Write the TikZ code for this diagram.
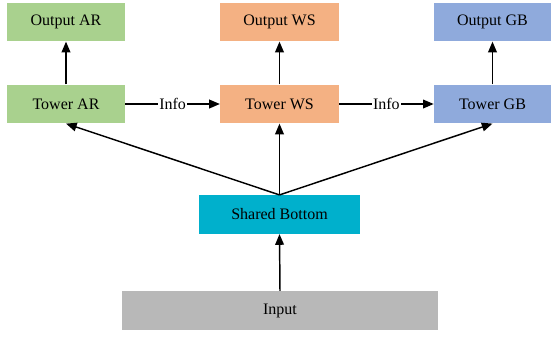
\documentclass[tikz,border=0pt]{standalone}
\usepackage{fontspec}
\setmainfont{Liberation Serif}
\usetikzlibrary{arrows.meta}
\definecolor{cgreen}{HTML}{A9D18E}
\definecolor{corange}{HTML}{F4B183}
\definecolor{cblue}{HTML}{8FAADC}
\definecolor{ccyan}{HTML}{00B0CC}
\definecolor{cgray}{HTML}{B8B8B8}
\begin{document}
\begin{tikzpicture}[x=0.75pt,y=-0.75pt,
  boxnode/.style={draw=none, minimum height=29pt, inner sep=0pt, font=\fontsize{12}{14}\selectfont, text=black},
  conn/.style={line width=1.1pt, -{Triangle[length=8pt,width=6.5pt]}},
  infolbl/.style={fill=white, inner sep=1pt, font=\fontsize{12}{14}\selectfont}]
\useasboundingbox (0,0) rectangle (551,337);
% outputs
\node[boxnode, fill=cgreen, minimum width=88.5pt] (oar) at (66,22) {Output AR};
\node[boxnode, fill=corange, minimum width=89pt] (ows) at (279.5,22) {Output WS};
\node[boxnode, fill=cblue, minimum width=87.75pt] (ogb) at (492.5,22) {Output GB};
% towers
\node[boxnode, fill=cgreen, minimum width=88.5pt] (tar) at (66,104) {Tower AR};
\node[boxnode, fill=corange, minimum width=89pt] (tws) at (279.5,104) {Tower WS};
\node[boxnode, fill=cblue, minimum width=87.75pt] (tgb) at (492.5,104) {Tower GB};
% shared bottom and input
\node[boxnode, fill=ccyan, minimum width=120.75pt] (sb) at (279.5,214.5) {Shared Bottom};
\node[boxnode, fill=cgray, minimum width=237pt] (inp) at (280,310.5) {Input};
% connectors
\draw[conn] (tar.north) -- (oar.south);
\draw[conn] (tws.north) -- (ows.south);
\draw[conn] (tgb.north) -- (ogb.south);
\draw[conn] (tar.east) -- node[infolbl] {Info} (tws.west);
\draw[conn] (tws.east) -- node[infolbl] {Info} (tgb.west);
\draw[conn] (sb.north) -- (tar.south);
\draw[conn] (sb.north) -- (tws.south);
\draw[conn] (sb.north) -- (tgb.south);
\draw[conn] (inp.north) -- (sb.south);
\end{tikzpicture}
\end{document}
